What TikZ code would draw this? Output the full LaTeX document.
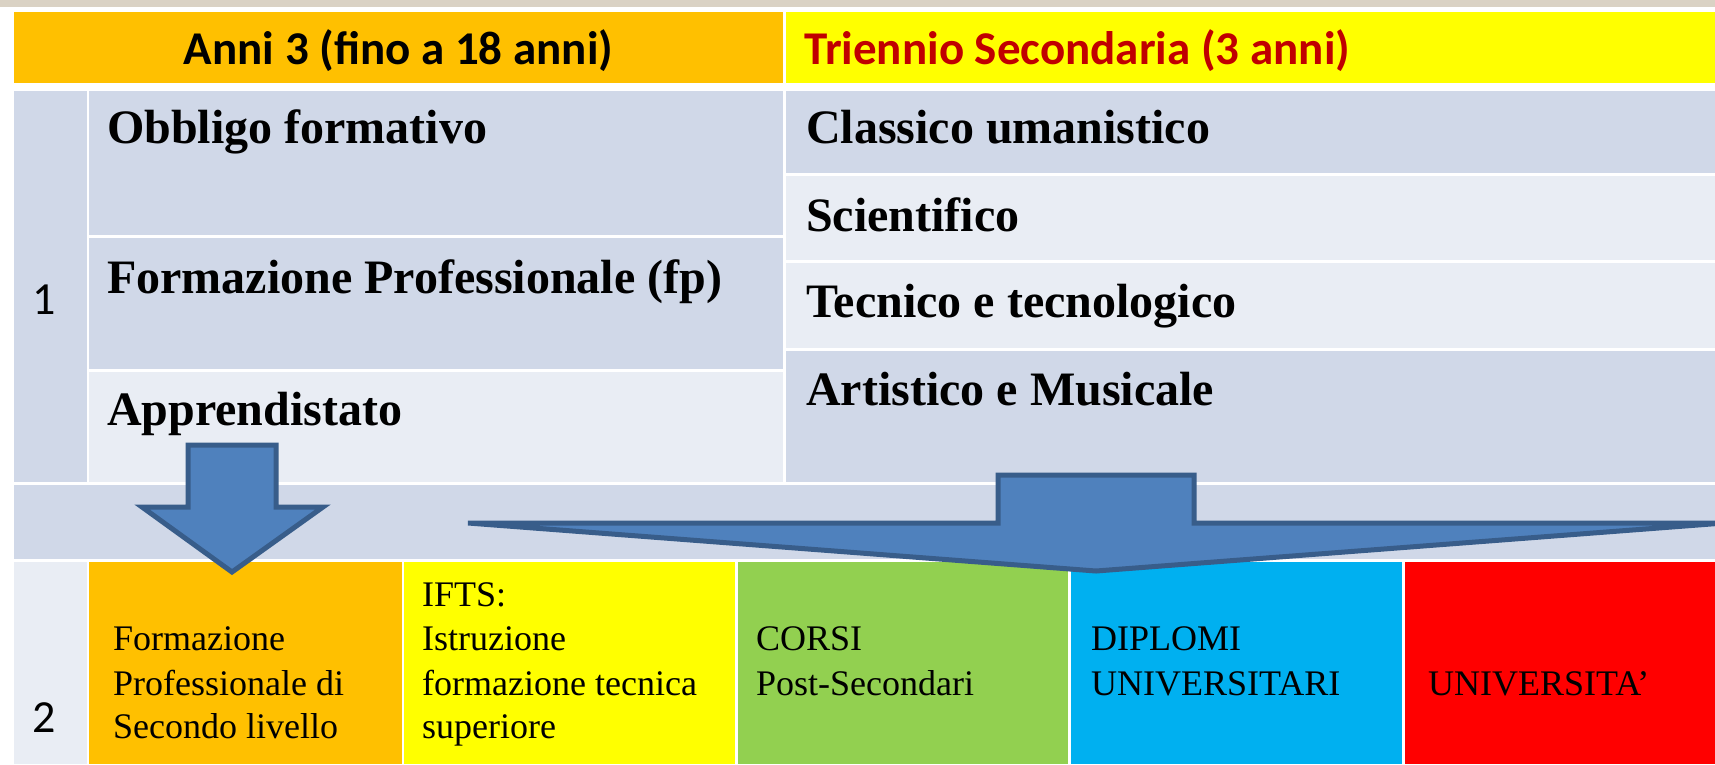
\documentclass[tikz,border=0pt]{standalone}
\usepackage{fontspec}
\setmainfont{Liberation Serif}
\newfontfamily\calib{Carlito}
\definecolor{hdrorange}{HTML}{FFC000}
\definecolor{hdryellow}{HTML}{FFFF00}
\definecolor{hdrred}{HTML}{C00000}
\definecolor{tdark}{HTML}{D0D8E8}
\definecolor{tlight}{HTML}{E9EDF4}
\definecolor{cgreen}{HTML}{92D050}
\definecolor{cblue}{HTML}{00B0F0}
\definecolor{cred}{HTML}{FF0000}
\definecolor{arrowfill}{HTML}{4F81BD}
\definecolor{arrowline}{HTML}{385D8A}
\definecolor{stripbg}{HTML}{DAD2C4}
\begin{document}
\begin{tikzpicture}[x=1pt,y=-1pt,
  cell/.style={rectangle, inner sep=0pt, outer sep=0pt, anchor=north west, draw=none},
  hdr/.style={font=\calib\bfseries\fontsize{47}{56}\selectfont, inner sep=0pt},
  bigtxt/.style={font=\bfseries\fontsize{48}{56}\selectfont, inner sep=0pt, anchor=base west},
  smalltxt/.style={font=\fontsize{36}{44}\selectfont, inner sep=0pt, anchor=base west},
  num/.style={font=\calib\fontsize{46}{54}\selectfont, inner sep=0pt, anchor=base},
  blockarrow/.style={fill=arrowfill, draw=arrowline, line width=5pt, line join=miter}]
\useasboundingbox (0,0) rectangle (1715,764);
\clip (0,0) rectangle (1715,764);
\fill[white] (0,0) rectangle (1715,764);
% textured strip at top
\node[cell, fill=stripbg, minimum width=1715pt, minimum height=7pt] (strip) at (0,0) {};
% header
\node[cell, fill=hdrorange, minimum width=769pt, minimum height=71.3pt] (hA) at (14,11.7) {};
\node[cell, fill=hdryellow, minimum width=929.5pt, minimum height=71.3pt] (hB) at (785.5,11.7) {};
% row 1
\node[cell, fill=tdark, minimum width=72.5pt, minimum height=391pt] (c1) at (14,91) {};
\node[cell, fill=tdark, minimum width=694pt, minimum height=144pt] (obb) at (89,91) {};
\node[cell, fill=tdark, minimum width=694pt, minimum height=131pt] (fp) at (89,238) {};
\node[cell, fill=tlight, minimum width=694pt, minimum height=110.5pt] (app) at (89,371.5) {};
\node[cell, fill=tdark, minimum width=929.5pt, minimum height=82pt] (cla) at (785.5,91) {};
\node[cell, fill=tlight, minimum width=929.5pt, minimum height=84pt] (sci) at (785.5,176) {};
\node[cell, fill=tlight, minimum width=929.5pt, minimum height=85pt] (tec) at (785.5,263) {};
\node[cell, fill=tdark, minimum width=929.5pt, minimum height=131pt] (art) at (785.5,351) {};
% band
\node[cell, fill=tdark, minimum width=1701pt, minimum height=74pt] (band) at (14,485) {};
% row 2
\node[cell, fill=tlight, minimum width=72.5pt, minimum height=202pt] (c2) at (14,562) {};
\node[cell, fill=hdrorange, minimum width=312.5pt, minimum height=202pt] (o2) at (89,562) {};
\node[cell, fill=hdryellow, minimum width=331pt, minimum height=202pt] (y2) at (404,562) {};
\node[cell, fill=cgreen, minimum width=330pt, minimum height=202pt] (g2) at (738,562) {};
\node[cell, fill=cblue, minimum width=331pt, minimum height=202pt] (b2) at (1071,562) {};
\node[cell, fill=cred, minimum width=310pt, minimum height=202pt] (r2) at (1405,562) {};
% block arrows
\draw[blockarrow] (188,445) -- (276,445) -- (276,507) -- (323,507) -- (232,572) -- (142,507) -- (188,507) -- cycle;
\draw[blockarrow] (998,475) -- (1194,475) -- (1194,523) -- (1724,523) -- (1096,571) -- (468,523) -- (998,523) -- cycle;
% header texts
\node[hdr, anchor=base] (tA) at (398.5,64) {Anni 3 (fino a 18 anni)};
\node[hdr, anchor=base west, text=hdrred] (tB) at (804,64) {Triennio Secondaria (3 anni)};
% numbers
\node[num] (n1) at (44.5,314) {1};
\node[num] (n2) at (44,732) {2};
% row 1 texts
\node[bigtxt] (tobb) at (107,143) {Obbligo formativo};
\node[bigtxt] (tfp) at (107,293) {Formazione Professionale (fp)};
\node[bigtxt] (tapp) at (107,425) {Apprendistato};
\node[bigtxt] (tcla) at (806,143) {Classico umanistico};
\node[bigtxt] (tsci) at (806,231) {Scientifico};
\node[bigtxt] (ttec) at (806,317) {Tecnico e tecnologico};
\node[bigtxt] (tart) at (806,405) {Artistico e Musicale};
% row 2 texts
\node[smalltxt] (fo1) at (113,650) {Formazione};
\node[smalltxt] (fo2) at (113,695) {Professionale di};
\node[smalltxt] (fo3) at (113,738) {Secondo livello};
\node[smalltxt] (if1) at (422,606) {IFTS:};
\node[smalltxt] (if2) at (422,650) {Istruzione};
\node[smalltxt] (if3) at (422,695) {formazione tecnica};
\node[smalltxt] (if4) at (422,738) {superiore};
\node[smalltxt] (co1) at (756,650) {CORSI};
\node[smalltxt] (co2) at (756,695) {Post-Secondari};
\node[smalltxt] (di1) at (1091,650) {DIPLOMI};
\node[smalltxt] (di2) at (1091,695) {UNIVERSITARI};
\node[smalltxt] (un1) at (1428,695) {UNIVERSITA’};
\end{tikzpicture}
\end{document}
